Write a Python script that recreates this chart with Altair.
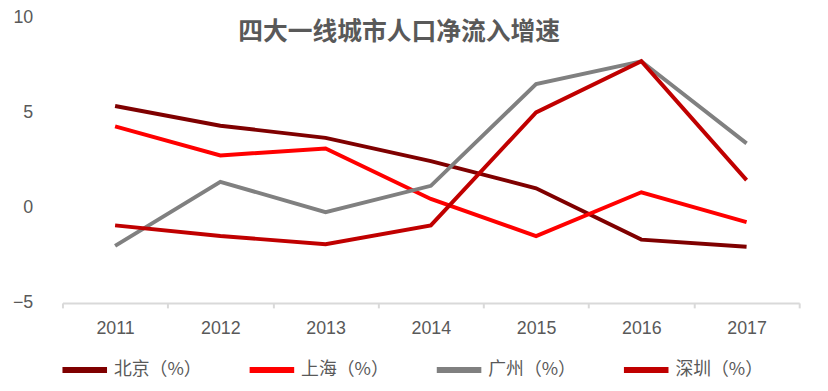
import altair as alt
import pandas as pd

years = ["2011", "2012", "2013", "2014", "2015", "2016", "2017"]
cities = ["北京（%）", "上海（%）", "广州（%）", "深圳（%）"]
beijing = [5.36, 4.32, 3.68, 2.46, 1.03, -1.67, -2.05]
shanghai = [4.29, 2.76, 3.12, 0.47, -1.48, 0.82, -0.75]
guangzhou = [-2.0, 1.37, -0.23, 1.16, 6.51, 7.71, 3.39]
shenzhen = [-0.92, -1.48, -1.91, -0.92, 5.02, 7.71, 1.46]
colors = ["#7F0000", "#FF0000", "#808080", "#C00000"]
y_ticks = [-5, 0, 5, 10]

rows = []
for i, (c, vals) in enumerate(zip(cities, [beijing, shanghai, guangzhou, shenzhen])):
    for yr, v in zip(years, vals):
        rows.append({"year": yr, "city": c, "value": v, "k": i})
df = pd.DataFrame(rows)

font = "Liberation Sans, Noto Sans CJK SC"
cjk = "Noto Sans CJK SC"
grey = "#595959"

chart = alt.Chart(df).mark_line(strokeWidth=4).encode(
    x=alt.X("year:O",
            scale=alt.Scale(type="band", paddingInner=0, paddingOuter=0),
            axis=alt.Axis(title=None, labelAngle=0, tickBand="extent",
                          domainColor="#D9D9D9", domainWidth=2,
                          tickColor="#D9D9D9", tickWidth=2, tickSize=5,
                          labelPadding=12, labelFontSize=18, labelColor=grey,
                          labelFont=font)),
    y=alt.Y("value:Q",
            scale=alt.Scale(domain=[-5, 10], nice=False, zero=False),
            axis=alt.Axis(title=None, values=y_ticks, domain=False, ticks=False,
                          grid=False, labelPadding=30, labelFontSize=18,
                          labelColor=grey, labelFont=font)),
    color=alt.Color("city:N",
                    scale=alt.Scale(domain=cities, range=colors),
                    legend=alt.Legend(title=None, orient="none", legendX=-3,
                                      legendY=330, direction="horizontal",
                                      columns=4, columnPadding=36,
                                      symbolType="stroke", symbolSize=2025,
                                      symbolStrokeWidth=6, labelOffset=4,
                                      labelFontSize=18, labelColor=grey,
                                      labelFont=cjk)),
    order=alt.Order("k:Q"),
).properties(
    width=744,
    height=288,
    autosize="none",
    padding={"left": 55, "top": 8, "right": 21, "bottom": 78},
    title=alt.TitleParams("四大一线城市人口净流入增速", anchor="middle", dx=-32,
                          offset=-36, fontSize=25, font=cjk, fontWeight="bold",
                          color=grey),
).configure_view(stroke=None)

chart.save("out.html", embed_options={"renderer": "svg", "actions": False})
